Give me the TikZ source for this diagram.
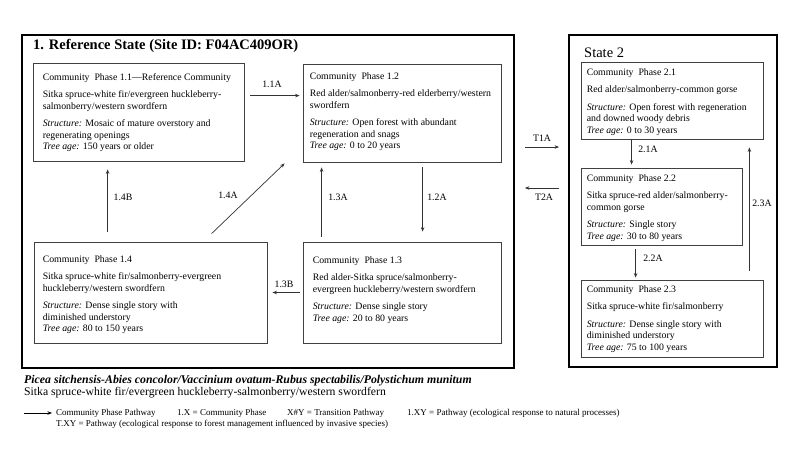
\documentclass[tikz,border=0pt]{standalone}
\usepackage{fontspec}
\setmainfont{Liberation Serif}
\usetikzlibrary{calc,arrows.meta}
\begin{document}
\begin{tikzpicture}[x=1pt,y=-1pt,
 statebox/.style={draw=black,line width=1.8pt,inner sep=0pt},
 phasebox/.style={draw=black!75,line width=0.8pt,inner sep=0pt},
 boxtext/.style={anchor=north west,align=left,inner sep=0pt,font=\fontsize{9.8}{11.5}\selectfont},
 arr/.style={draw=black!80,line width=0.7pt,-{Stealth[length=4.5pt,width=3.5pt]}},
 lbl/.style={inner sep=0pt,font=\fontsize{9.8}{11}\selectfont},
 legtext/.style={anchor=west,inner sep=0pt,font=\fontsize{9}{11}\selectfont},
]
\useasboundingbox (0,0) rectangle (800,450);
\fill[white] (0,0) rectangle (800,450);

% state boxes
\node[statebox,minimum width=492pt,minimum height=333pt] (s1) at (268,201.5) {};
\node[statebox,minimum width=208pt,minimum height=332pt] (s2) at (673,201) {};
\node[anchor=west,inner sep=0pt,font=\bfseries\fontsize{14.5}{16}\selectfont] (title1) at (33,46) {1. Reference State (Site ID: F04AC409OR)};
\node[anchor=west,inner sep=0pt,font=\fontsize{14.5}{16}\selectfont] (title2) at (584,53) {State 2};

% phase boxes
\node[phasebox,minimum width=211pt,minimum height=98pt] (b11) at (138.5,112) {};
\node[phasebox,minimum width=198pt,minimum height=98pt] (b12) at (402,113) {};
\node[phasebox,minimum width=233pt,minimum height=101pt] (b14) at (150.5,292.5) {};
\node[phasebox,minimum width=198pt,minimum height=101pt] (b13) at (402,292.5) {};
\node[phasebox,minimum width=182pt,minimum height=77pt] (b21) at (672,100.5) {};
\node[phasebox,minimum width=161pt,minimum height=77pt] (b22) at (661.5,206.5) {};
\node[phasebox,minimum width=182pt,minimum height=77pt] (b23) at (672,318.5) {};

% box texts
\node[boxtext] (t11) at ($(b11.north west)+(10,10.5)$) {Community\ \ Phase 1.1---Reference Community\\[6pt]
Sitka spruce-white fir/evergreen huckleberry-\\
salmonberry/western swordfern\\[6pt]
\textit{Structure:} Mosaic of mature overstory and\\
regenerating openings\\
\textit{Tree age:} 150 years or older};
\node[boxtext] (t12) at ($(b12.north west)+(7,8.7)$) {Community\ \ Phase 1.2\\[6pt]
Red alder/salmonberry-red elderberry/western\\
swordfern\\[6pt]
\textit{Structure:} Open forest with abundant\\
regeneration and snags\\
\textit{Tree age:} 0 to 20 years};
\node[boxtext] (t13) at ($(b13.north west)+(10,14.7)$) {Community\ \ Phase 1.3\\[6pt]
Red alder-Sitka spruce/salmonberry-\\
evergreen huckleberry/western swordfern\\[6pt]
\textit{Structure:} Dense single story\\
\textit{Tree age:} 20 to 80 years};
\node[boxtext] (t14) at ($(b14.north west)+(9,13.7)$) {Community\ \ Phase 1.4\\[6pt]
Sitka spruce-white fir/salmonberry-evergreen\\
huckleberry/western swordfern\\[6pt]
\textit{Structure:} Dense single story with\\
diminished understory\\
\textit{Tree age:} 80 to 150 years};
\node[boxtext] (t21) at ($(b21.north west)+(6,6.7)$) {Community\ \ Phase 2.1\\[6pt]
Red alder/salmonberry-common gorse\\[6pt]
\textit{Structure:} Open forest with regeneration\\
and downed woody debris\\
\textit{Tree age:} 0 to 30 years};
\node[boxtext] (t22) at ($(b22.north west)+(6,6.7)$) {Community\ \ Phase 2.2\\[6pt]
Sitka spruce-red alder/salmonberry-\\
common gorse\\[6pt]
\textit{Structure:} Single story\\
\textit{Tree age:} 30 to 80 years};
\node[boxtext] (t23) at ($(b23.north west)+(6,5.7)$) {Community\ \ Phase 2.3\\[6pt]
Sitka spruce-white fir/salmonberry\\[6pt]
\textit{Structure:} Dense single story with\\
diminished understory\\
\textit{Tree age:} 75 to 100 years};

% connectors
\draw[arr] ($(b11.north east)+(6,33)$) -- ($(b12.north west)+(-3,32)$);
\draw[arr] ($(b14.north west)+(74,-10)$) -- ($(b11.south west)+(75,8)$);
\draw[arr] ($(b14.north west)+(178,-8)$) -- ($(b12.south west)+(-18,1)$);
\draw[arr] ($(b13.north west)+(19,-5)$) -- ($(b12.south west)+(19,5)$);
\draw[arr] ($(b12.south west)+(120,5)$) -- ($(b13.north west)+(120,-10)$);
\draw[arr] ($(b13.west)+(-3,0)$) -- ($(b14.east)+(5,0)$);
\draw[arr] ($(s1.east)+(10,-54.5)$) -- ($(s2.west)+(-9,-54)$);
\draw[arr] ($(s2.west)+(-9,-13)$) -- ($(s1.east)+(10,-13.5)$);
\draw[arr] ($(b21.south west)+(51,0)$) -- ($(b22.north west)+(51,-3)$);
\draw[arr] ($(b22.south west)+(55,4)$) -- ($(b23.north west)+(55,-2)$);
\draw[arr] ($(b23.north east)+(-14,-9)$) -- ($(b21.south east)+(-14,8)$);

% labels
\node[lbl] (l11a) at (272,84) {1.1A};
\node[lbl] (l14b) at (123,197) {1.4B};
\node[lbl] (l14a) at (228,195) {1.4A};
\node[lbl] (l13a) at (338,197) {1.3A};
\node[lbl] (l12a) at (437,197) {1.2A};
\node[lbl] (l13b) at (284,284) {1.3B};
\node[lbl] (lt1a) at (542,138) {T1A};
\node[lbl] (lt2a) at (544,197) {T2A};
\node[lbl] (l21a) at (648,149) {2.1A};
\node[lbl] (l22a) at (653,258) {2.2A};
\node[lbl] (l23a) at (762,203) {2.3A};

% bottom text
\node[anchor=west,inner sep=0pt,font=\bfseries\itshape\fontsize{11.8}{14}\selectfont] (latin) at (24,381) {Picea sitchensis-Abies concolor/Vaccinium ovatum-Rubus spectabilis/Polystichum munitum};
\node[anchor=west,inner sep=0pt,font=\fontsize{11.7}{14}\selectfont] (common) at (24,393) {Sitka spruce-white fir/evergreen huckleberry-salmonberry/western swordfern};

% legend
\coordinate (legs) at (24,413);
\coordinate (lege) at (52,413);
\draw[arr,draw=black] (legs) -- (lege);
\node[legtext] (leg1) at (56,413) {Community Phase Pathway};
\node[legtext] (leg2) at (177,413) {1.X = Community Phase};
\node[legtext] (leg3) at (287,413) {X\#Y = Transition Pathway};
\node[legtext] (leg4) at (407,413) {1.XY = Pathway (ecological response to natural processes)};
\node[legtext] (leg5) at (56,424) {T.XY = Pathway (ecological response to forest management influenced by invasive species)};
\end{tikzpicture}
\end{document}
